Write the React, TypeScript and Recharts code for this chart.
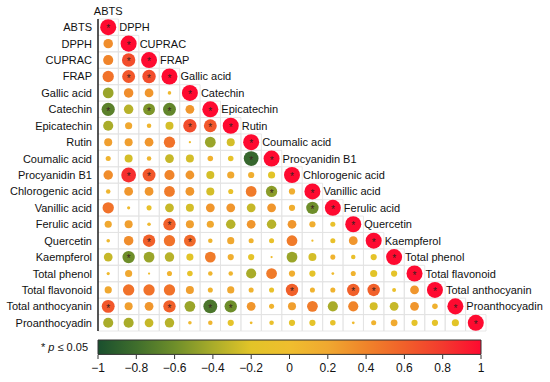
import React from 'react';
import { ScatterChart, Scatter, XAxis, YAxis, ReferenceArea, BarChart, Bar } from 'recharts';

// variable names (rows top -> bottom, columns left -> right)
const names = [
  'ABTS', 'DPPH', 'CUPRAC', 'FRAP', 'Gallic acid', 'Catechin', 'Epicatechin', 'Rutin',
  'Coumalic acid', 'Procyanidin B1', 'Chlorogenic acid', 'Vanillic acid', 'Ferulic acid',
  'Quercetin', 'Kaempferol', 'Total phenol', 'Total flavonoid', 'Total anthocyanin', 'Proanthocyadin',
];

// lower triangle correlations, one array per row (columns 0..row-1)
const rowDPPH = [0.35];
const rowCUPRAC = [0.4, 0.7];
const rowFRAP = [0.5, 0.65, 0.7];
const rowGallic = [-0.45, 0.35, 0.3, 0.05];
const rowCatechin = [-0.68, -0.35, -0.55, -0.65, 0.3];
const rowEpicatechin = [-0.4, 0.2, 0.08, -0.25, 0.7, 0.65];
const rowRutin = [0.25, 0.25, 0.3, 0.5, 0.02, -0.45, -0.25];
const rowCoumalic = [0.1, -0.25, 0.08, -0.3, -0.25, 0.12, -0.12, -0.85];
const rowProcyanidin = [0.35, 0.85, 0.65, 0.4, 0.3, -0.25, 0.2, 0.15, -0.2];
const rowChlorogenic = [0.08, 0.3, 0.3, 0.45, 0.3, -0.25, -0.1, 0.45, -0.5, 0.15];
const rowVanillic = [0.5, 0.04, -0.1, -0.3, -0.25, 0.3, 0.3, -0.3, 0.3, 0.15, -0.6];
const rowFerulic = [0.2, 0.25, 0.05, 0.6, 0.25, 0.2, -0.35, 0.3, -0.35, 0.3, 0.15, -0.1];
const rowQuercetin = [0.05, 0.35, 0.6, 0.5, 0.55, 0.08, 0.2, 0.1, -0.1, 0.45, 0.02, -0.1, 0.3];
const rowKaempferol = [-0.3, -0.6, -0.45, -0.35, -0.2, 0.45, 0.15, -0.15, 0.02, -0.45, -0.25, 0.1, -0.08, -0.15];
const rowTotalPhenol = [0.04, 0.2, 0.02, 0.1, -0.12, 0.08, 0.08, -0.4, 0.45, 0.15, -0.15, 0.03, 0.1, -0.2, -0.15];
const rowTotalFlavonoid = [0.2, 0.5, 0.5, 0.5, 0.25, 0.1, 0.2, 0.1, -0.1, 0.6, 0.1, 0.1, 0.6, 0.6, -0.06, 0.3];
const rowTotalAnthocyanin = [0.65, 0.25, 0.3, 0.6, -0.45, -0.75, -0.6, 0.3, 0.1, 0.25, 0.45, -0.4, 0.4, -0.25, -0.3, 0.3, 0.12];
const rowProanthocyadin = [-0.4, -0.4, -0.3, -0.35, 0.05, 0.08, -0.15, 0.03, -0.08, -0.15, -0.15, -0.12, 0.03, 0.1, 0.18, -0.15, -0.15, -0.2];

const lowerRows = [
  [], rowDPPH, rowCUPRAC, rowFRAP, rowGallic, rowCatechin, rowEpicatechin, rowRutin, rowCoumalic,
  rowProcyanidin, rowChlorogenic, rowVanillic, rowFerulic, rowQuercetin, rowKaempferol,
  rowTotalPhenol, rowTotalFlavonoid, rowTotalAnthocyanin, rowProanthocyadin,
];

// significant pairs (p <= 0.05) as [row, col], diagonal always marked
const sigPairs = [
  [2, 1], [3, 1], [3, 2], [5, 0], [5, 2], [5, 3], [6, 4], [6, 5], [8, 7], [9, 1], [9, 2],
  [10, 8], [11, 10], [12, 3], [13, 2], [13, 4], [14, 1], [16, 9], [16, 12], [16, 13],
  [17, 0], [17, 3], [17, 5], [17, 6],
];

const colorbarTicks = [-1, -0.8, -0.6, -0.4, -0.2, 0, 0.2, 0.4, 0.6, 0.8, 1];
const colorbarRange = [{ name: 'r', span: [-1, 1] }];

const colorStops: [number, number[]][] = [
  [-1, [26, 79, 46]],
  [-0.8, [63, 110, 44]],
  [-0.6, [110, 142, 42]],
  [-0.4, [169, 172, 42]],
  [-0.2, [226, 196, 40]],
  [0, [239, 190, 46]],
  [0.2, [240, 168, 48]],
  [0.4, [240, 132, 42]],
  [0.6, [241, 96, 42]],
  [0.8, [243, 58, 46]],
  [1, [254, 10, 48]],
];

const colorFor = (v: number) => {
  for (let k = 0; k < colorStops.length - 1; k++) {
    const [a, ca] = colorStops[k];
    const [b, cb] = colorStops[k + 1];
    if (v >= a && v <= b) {
      const t = (v - a) / (b - a);
      const c = ca.map((x, i) => Math.round(x + (cb[i] - x) * t));
      return `rgb(${c[0]},${c[1]},${c[2]})`;
    }
  }
  return 'rgb(254,10,48)';
};

const sigSet = new Set(sigPairs.map(([r, c]) => `${r}-${c}`));

const points: any[] = [];
names.forEach((_, i) => {
  lowerRows[i].forEach((v, j) => points.push({ x: j, y: i, r: v, sig: sigSet.has(`${i}-${j}`), diag: false }));
  points.push({ x: i, y: i, r: 1, sig: true, diag: true });
});

const cells: { x: number; y: number }[] = [];
names.forEach((_, i) => {
  for (let j = 0; j <= i; j++) cells.push({ x: j, y: i });
});

const font = 'Liberation Sans, Arial, sans-serif';
const W = 550;
const H = 340;
const margin = { top: 19, right: 64, bottom: 9, left: 0 };
const yAxisW = 98;
const cellH = (H - margin.top - margin.bottom) / names.length;
const maxR = cellH / 2 - 0.2;

const CorrDot = (props: any) => {
  const { cx, cy, payload } = props;
  const rad = Math.max(0.8, maxR * Math.sqrt(Math.abs(payload.r)));
  return (
    <g>
      <circle cx={cx} cy={cy} r={rad} fill={colorFor(payload.r)} />
      {payload.sig && (
        <text x={cx} y={cy + 5.2} textAnchor="middle" fontSize={10} fill="#3a2020" fontFamily={font}>*</text>
      )}
      {payload.diag && payload.y < names.length - 1 && (
        <text x={cx + 11} y={cy} dominantBaseline="central" fontSize={11} fill="#111" fontFamily={font}>
          {names[payload.y + 1]}
        </text>
      )}
      {payload.diag && payload.y === 0 && (
        <text x={cx} y={cy - 16} textAnchor="middle" dominantBaseline="central" fontSize={11} fill="#111" fontFamily={font}>
          {names[0]}
        </text>
      )}
    </g>
  );
};

const RowTick = (props: any) => {
  const { x, y, payload } = props;
  return (
    <text x={x} y={y} textAnchor="end" dominantBaseline="central" fontSize={11} fill="#111" fontFamily={font}>
      {names[payload.value]}
    </text>
  );
};

const fmt = (v: number) => (v < 0 ? `\u2212${Math.abs(v)}` : `${v}`);

export default function App() {
  return (
    <div style={{ position: 'absolute', left: 0, top: 0, width: 550, height: 382, background: '#fff' }}>
      <svg width={1} height={1} style={{ position: 'absolute', left: 0, top: 0 }}>
        <defs>
          <linearGradient id="cbGrad" x1="0" y1="0" x2="1" y2="0">
            {colorStops.map(([v, c]) => (
              <stop key={v} offset={`${((v + 1) / 2) * 100}%`} stopColor={`rgb(${c[0]},${c[1]},${c[2]})`} />
            ))}
          </linearGradient>
        </defs>
      </svg>
      <ScatterChart width={W} height={H} margin={margin}>
        <XAxis
          type="number"
          dataKey="x"
          domain={[-0.5, names.length - 0.5]}
          tick={false}
          tickLine={false}
          height={0}
          axisLine={{ stroke: '#000', strokeWidth: 1.3 }}
        />
        <YAxis
          type="number"
          dataKey="y"
          reversed
          width={yAxisW}
          domain={[-0.5, names.length - 0.5]}
          ticks={names.map((_, i) => i)}
          interval={0}
          tickLine={false}
          tickSize={4}
          tickMargin={2}
          tick={<RowTick />}
          axisLine={{ stroke: '#000', strokeWidth: 1.3 }}
        />
        {cells.map((c) => (
          <ReferenceArea
            key={`${c.x}-${c.y}`}
            x1={c.x - 0.5}
            x2={c.x + 0.5}
            y1={c.y - 0.5}
            y2={c.y + 0.5}
            fill="none"
            fillOpacity={0}
            stroke="#e2e2e2"
            strokeWidth={0.8}
            ifOverflow="visible"
          />
        ))}
        <Scatter data={points} shape={CorrDot} isAnimationActive={false} />
      </ScatterChart>
      <div
        style={{
          position: 'absolute', left: 0, top: 340, width: 88, textAlign: 'right',
          fontSize: 11, fontFamily: font, color: '#111', lineHeight: '14px',
        }}
      >
        * <i>p</i> ≤ 0.05
      </div>
      <div style={{ position: 'absolute', left: 0, top: 335 }}>
        <BarChart
          width={W}
          height={47}
          layout="vertical"
          data={colorbarRange}
          margin={{ top: 4, right: 69, bottom: 0, left: 98 }}
        >
          <XAxis
            type="number"
            domain={[-1, 1]}
            ticks={colorbarTicks}
            interval={0}
            tickFormatter={fmt}
            height={27}
            axisLine={false}
            tickSize={4}
            tickMargin={4}
            tickLine={{ stroke: '#333' }}
            tick={{ fontSize: 12, fill: '#111', fontFamily: font }}
          />
          <YAxis type="category" dataKey="name" hide />
          <Bar
            dataKey="span"
            fill="url(#cbGrad)"
            stroke="#333"
            strokeWidth={1}
            barSize={16}
            isAnimationActive={false}
          />
        </BarChart>
      </div>
    </div>
  );
}
